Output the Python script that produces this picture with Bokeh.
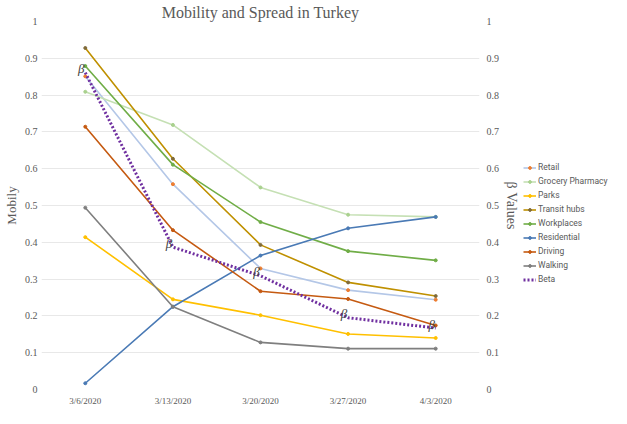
from bokeh.plotting import figure
from bokeh.models import Range1d, LinearAxis, FixedTicker, CustomJSTickFormatter, Legend
from bokeh.layouts import row
from bokeh.core.properties import value
from bokeh.embed import file_html
from bokeh.resources import INLINE

dates = ["3/6/2020", "3/13/2020", "3/20/2020", "3/27/2020", "4/3/2020"]

retail = [0.851, 0.558, 0.329, 0.270, 0.244]
grocery = [0.809, 0.719, 0.549, 0.475, 0.469]
parks = [0.414, 0.245, 0.202, 0.151, 0.140]
transit = [0.928, 0.627, 0.393, 0.291, 0.254]
workplaces = [0.879, 0.611, 0.455, 0.376, 0.351]
residential = [0.017, 0.225, 0.364, 0.438, 0.469]
driving = [0.714, 0.433, 0.267, 0.246, 0.174]
walking = [0.494, 0.225, 0.128, 0.111, 0.111]
beta = [0.861, 0.387, 0.309, 0.195, 0.167]
beta_labels = ["β", "β", "β", "β", "β"]

ticks = [0, 0.1, 0.2, 0.3, 0.4, 0.5, 0.6, 0.7, 0.8, 0.9, 1]

series = [
    ("Retail", retail, "#b4c7e7", "#ed7d31"),
    ("Grocery Pharmacy", grocery, "#c5e0b4", "#a9d18e"),
    ("Parks", parks, "#ffc000", "#ffc000"),
    ("Transit hubs", transit, "#bf9000", "#7f6a3a"),
    ("Workplaces", workplaces, "#70ad47", "#70ad47"),
    ("Residential", residential, "#4a7ab5", "#4a7ab5"),
    ("Driving", driving, "#c55a11", "#c55a11"),
    ("Walking", walking, "#7f7f7f", "#7f7f7f"),
]

serif = "Liberation Serif"
txt_color = "#595959"

p = figure(width=522, height=408, x_range=dates, y_range=Range1d(0, 1),
           output_backend="svg", toolbar_location=None,
           min_border_left=4, min_border_right=2, min_border_top=16,
           min_border_bottom=0)
p.extra_y_ranges = {"beta": Range1d(0, 1)}

p.title.text = "Mobility and Spread in Turkey"
p.title.align = "center"
p.title.text_font = serif
p.title.text_font_style = "normal"
p.title.text_font_size = "16px"
p.title.text_color = txt_color
p.title.standoff = 2

p.outline_line_color = None
p.xgrid.grid_line_color = None
p.ygrid.grid_line_color = "#e8e8e8"
p.ygrid.ticker = FixedTicker(ticks=ticks)

fmt = CustomJSTickFormatter(code="return Number(tick.toFixed(1)).toString();")

p.yaxis.ticker = FixedTicker(ticks=ticks)
p.yaxis.formatter = fmt
p.yaxis.axis_label = "Mobily"

rax = LinearAxis(y_range_name="beta", axis_label="β Values",
                 ticker=FixedTicker(ticks=ticks), formatter=fmt)
p.add_layout(rax, "right")

for ax in [p.xaxis[0], p.yaxis[0], rax]:
    ax.axis_line_color = None
    ax.major_tick_line_color = None
    ax.minor_tick_line_color = None
    ax.major_tick_out = 0
    ax.major_tick_in = 0
    ax.minor_tick_out = 0
    ax.minor_tick_in = 0
    ax.major_label_text_font = serif
    ax.major_label_text_font_size = "10px"
    ax.major_label_text_color = txt_color
    ax.axis_label_text_font = serif
    ax.axis_label_text_font_style = "normal"
    ax.axis_label_text_color = txt_color
    ax.axis_label_text_font_size = "13px"
    ax.major_label_standoff = 4
    ax.axis_label_standoff = 3

p.xaxis.major_label_text_font_size = "9px"
p.xaxis.major_label_standoff = 6
rax.axis_label_text_font_size = "14px"
rax.major_label_standoff = 7
rax.axis_label_standoff = 2

for name, vals, lc, mc in series:
    p.line(dates, vals, line_color=lc, line_width=1.6)
    p.scatter(dates, vals, size=3, color=mc)

p.line(dates, beta, y_range_name="beta", line_color="#7030a0", line_width=3,
       line_dash="2 2")
p.text(dates, beta, text=beta_labels, y_range_name="beta",
       text_font=value(serif), text_font_style="italic", text_font_size="13px",
       text_color="#404040", text_align="center", text_baseline="middle",
       x_offset=-4, y_offset=-4)

# legend panel: same series drawn in a range where they are out of view,
# only their legend glyphs show
q = figure(width=89, height=408, x_range=dates, y_range=Range1d(5, 6),
           output_backend="svg", toolbar_location=None,
           x_axis_type=None, y_axis_type=None,
           min_border_left=0, min_border_right=0, min_border_top=0,
           min_border_bottom=0)
q.outline_line_color = None
q.xgrid.visible = False
q.ygrid.visible = False

items = []
for name, vals, lc, mc in series:
    r1 = q.line(dates, vals, line_color=lc, line_width=1.6)
    r2 = q.scatter(dates, vals, size=3, color=mc)
    items.append((name, [r1, r2]))
rb = q.line(dates, beta, line_color="#7030a0", line_width=3, line_dash="2 2")
items.append(("Beta", [rb]))

leg = Legend(items=items, location=(1, 104))
leg.border_line_color = None
leg.background_fill_alpha = 0
leg.padding = 0
leg.margin = 0
leg.spacing = 2
leg.glyph_width = 13
leg.glyph_height = 7
leg.label_height = 12
leg.label_standoff = 2
leg.label_text_font = "Roboto"
leg.label_text_font_size = "8.5px"
leg.label_text_color = txt_color
q.add_layout(leg)

open("out.html", "w").write(file_html(row(p, q), INLINE))
